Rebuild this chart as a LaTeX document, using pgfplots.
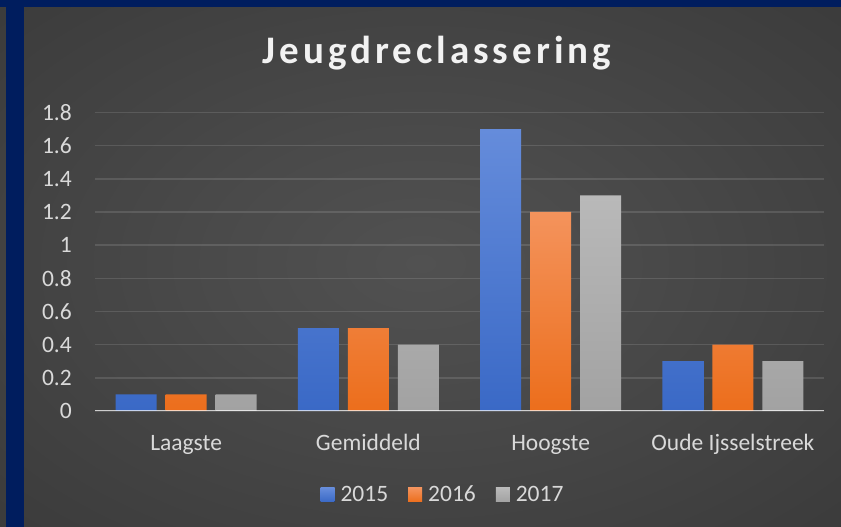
\documentclass[border=0pt]{standalone}
\usepackage{pgfplots}
\pgfplotsset{compat=1.18}
\usepackage{fontspec}
\setmainfont{Carlito}
\newfontfamily\titlefont[LetterSpace=10.3]{Carlito}
\definecolor{navyb}{HTML}{001D5E}
\definecolor{bgin}{HTML}{515151}
\definecolor{bgout}{HTML}{242424}
\definecolor{labc}{HTML}{D9D9D9}
\definecolor{titc}{HTML}{F2F2F2}
\definecolor{bluet}{HTML}{658CDB}
\definecolor{blueb}{HTML}{3A69C6}
\definecolor{oranget}{HTML}{F4935C}
\definecolor{orangeb}{HTML}{EC6E1C}
\definecolor{grayt}{HTML}{B9B9B9}
\definecolor{grayb}{HTML}{A2A2A2}
\pgfdeclareradialshading{bgshade}{\pgfpoint{0bp}{0bp}}{color(0bp)=(bgin); color(12bp)=(bgin!85!bgout); color(72bp)=(bgout)}
\newcommand{\lblfont}{\fontsize{23.5bp}{28bp}\selectfont}
\begin{document}
\begin{tikzpicture}
\useasboundingbox (0,0) rectangle (841bp,527bp);
\shade[shading=bgshade] (0,0) rectangle (841bp,527bp);
\fill[navyb] (0,520bp) rectangle (841bp,527bp);
\fill[navyb] (6bp,0) rectangle (24bp,520bp);
\begin{axis}[
  at={(95bp,116bp)}, anchor=south west,
  scale only axis, width=729bp, height=298.5bp,
  ybar=9bp, bar width=41bp,
  ymin=0, ymax=1.8,
  ytick={0,0.2,0.4,0.6,0.8,1,1.2,1.4,1.6,1.8},
  xmin=-0.5, xmax=3.5,
  xtick={0,1,2,3},
  xticklabels={Laagste,Gemiddeld,Hoogste,Oude Ijsselstreek},
  axis line style={draw=none},
  major tick length=0pt,
  tick style={draw=none},
  ymajorgrids,
  major grid style={draw=white, draw opacity=0.12, line width=1.5bp},
  /pgf/number format/assume math mode=true,
  /pgf/number format/.cd, fixed, precision=1, /pgfplots/.cd,
  yticklabel style={font=\lblfont, text=labc, anchor=east, inner sep=0pt, xshift=-23bp},
  xticklabel style={font=\lblfont, text=labc, anchor=base, inner sep=0pt, yshift=-39bp},
  title={Jeugdreclassering},
  title style={at={(0.469,1.179)}, anchor=center, inner sep=0pt,
    font=\titlefont\fontsize{39bp}{46bp}\selectfont\bfseries, text=titc},
  legend style={at={(0.476,-0.278)}, anchor=center, draw=none, fill=none,
    legend columns=-1, font=\lblfont, text=labc,
    nodes={inner sep=0pt, anchor=base west, text depth=0pt},
    /tikz/every odd column/.append style={column sep=6bp},
    /tikz/every even column/.append style={column sep=20bp}},
  legend image code/.code={\fill[#1] (0bp,0bp) rectangle (14bp,14bp);},
]
\addplot[draw=none, top color=bluet, bottom color=blueb] coordinates {(0,0.1) (1,0.5) (2,1.7) (3,0.3)};
\addplot[draw=none, top color=oranget, bottom color=orangeb] coordinates {(0,0.1) (1,0.5) (2,1.2) (3,0.4)};
\addplot[draw=none, top color=grayt, bottom color=grayb] coordinates {(0,0.1) (1,0.4) (2,1.3) (3,0.3)};
\legend{2015,2016,2017}
\draw[white, draw opacity=0.7, line width=2.2bp] (rel axis cs:0,0) -- (rel axis cs:1,0);
\end{axis}
\end{tikzpicture}
\end{document}
